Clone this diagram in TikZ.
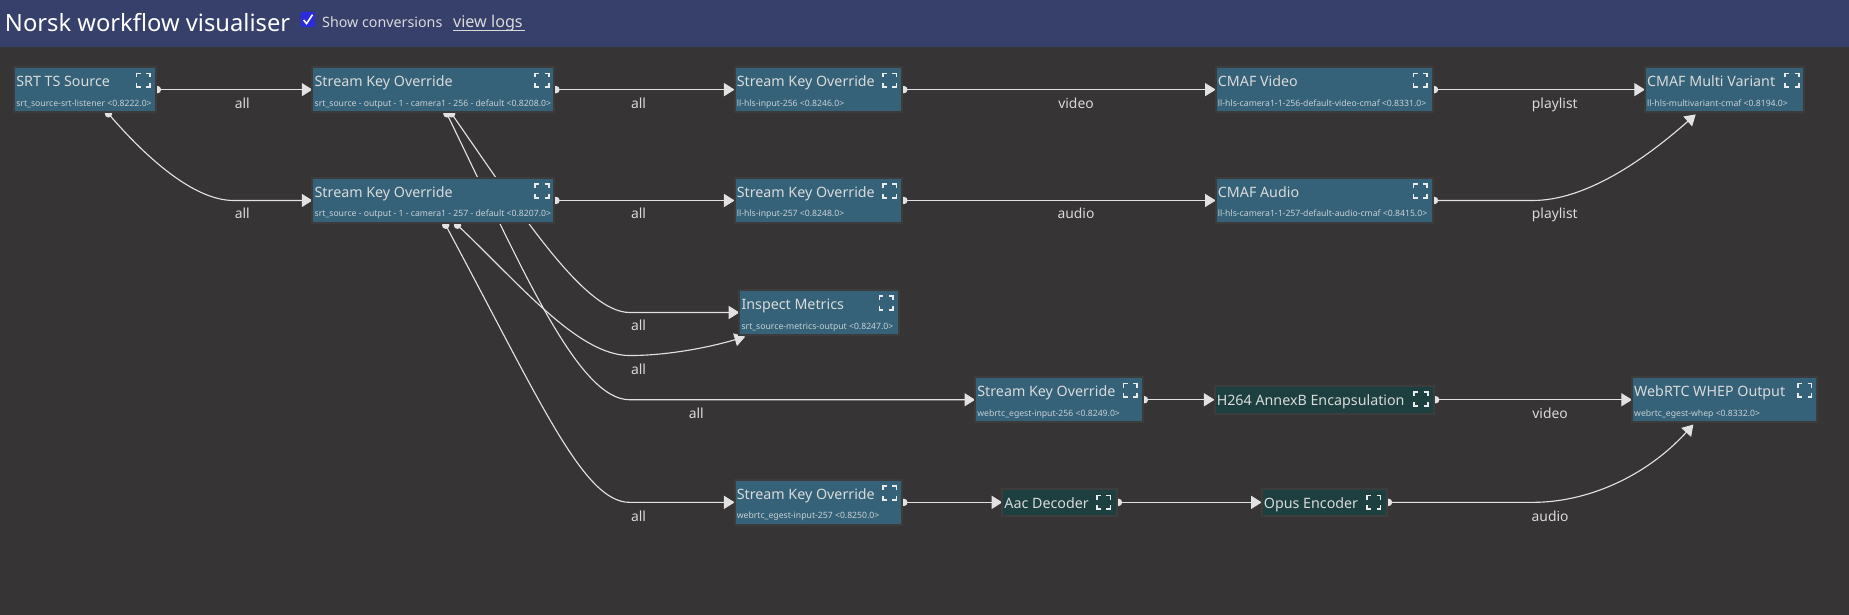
\documentclass[tikz,border=0pt]{standalone}
\usepackage{fontspec}
\setmainfont{Noto Sans}
\usetikzlibrary{arrows.meta,calc}
\pgfdeclarelayer{under}
\pgfsetlayers{under,main}
\definecolor{bgc}{HTML}{363435}
\definecolor{headc}{HTML}{37406B}
\definecolor{bluec}{HTML}{356278}
\definecolor{greenc}{HTML}{1D3F3F}
\definecolor{edgec}{HTML}{3D3C3D}
\definecolor{linec}{HTML}{E2E2E2}
\definecolor{txtc}{HTML}{DADADA}
\definecolor{subc}{HTML}{C8D0D5}
\definecolor{checkc}{HTML}{2B2BE0}
\newcommand{\upt}{0.8844}
\tikzset{
 wfbox/.style={draw=edgec,line width=1.5pt,inner sep=0pt,outer sep=0pt},
 wfblue/.style={wfbox,fill=bluec},
 wfgreen/.style={wfbox,fill=greenc},
 wftitle/.style={inner sep=0pt,anchor=base west,text=txtc,font=\fontsize{10.7pt}{12pt}\selectfont},
 wfsub/.style={inner sep=0pt,anchor=base west,text=subc,font=\fontsize{6.5pt}{8pt}\selectfont},
 wflabel/.style={inner sep=0pt,anchor=base,text=txtc,font=\fontsize{10.4pt}{12pt}\selectfont},
 wfedge/.style={draw=linec,line width=0.85pt,-{Triangle[length=8pt,width=9.8pt,fill=linec]}},
 handleh/.style={fill=linec,circle,inner sep=0pt,minimum size=5.6pt},
 wficon/.pic={\draw[white!92!black,line width=1.25pt,line cap=butt]
   (-5.8,-2.3)--(-5.8,-5.8)--(-2.3,-5.8) (2.3,-5.8)--(5.8,-5.8)--(5.8,-2.3)
   (5.8,2.3)--(5.8,5.8)--(2.3,5.8) (-2.3,5.8)--(-5.8,5.8)--(-5.8,2.3);}
}
% style, name, x1, y1, x2, y2, title, sub
\newcommand{\wfnode}[8]{%
 \pgfmathsetmacro{\wfw}{(#5-#3)*\upt}\pgfmathsetmacro{\wfh}{(#6-#4)*\upt}%
 \node[#1,minimum width=\wfw pt,minimum height=\wfh pt] (#2) at ({(#3+#5)/2},{(#4+#6)/2}) {};%
 \node[wftitle] (#2t) at (#3+1.6,#4+16.6) {#7};%
 \node[wfsub] (#2s) at (#3+1.6,#4+33) {#8};%
 \pic at (#5-10.5,#4+11) {wficon};}
\newcommand{\wfnodeg}[7]{%
 \pgfmathsetmacro{\wfw}{(#5-#3)*\upt}\pgfmathsetmacro{\wfh}{(#6-#4)*\upt}%
 \node[#1,minimum width=\wfw pt,minimum height=\wfh pt] (#2) at ({(#3+#5)/2},{(#4+#6)/2}) {};%
 \node[wftitle] (#2t) at (#3+1.6,#4+16.5) {#7};%
 \pic at (#5-11,#4+11.5) {wficon};}
\begin{document}
\begin{tikzpicture}[x=0.8844pt,y=-0.8844pt]
\useasboundingbox (0,0) rectangle (1568,520.7);
\begin{pgfonlayer}{under}
\fill[bgc] (-2,-2) rectangle (1570,523);
\end{pgfonlayer}
\fill[headc] (-2,-2) rectangle (1570,40);
\node[inner sep=0pt,anchor=base west,text=white,font=\fontsize{17.8pt}{20pt}\selectfont] (ttl) at (4,26.5) {Norsk workflow visualiser};
\fill[checkc,rounded corners=1.5pt] (255,10) rectangle (267,23);
\draw[white,line width=1.2pt] (257.5,17)--(260,20)--(265,12.5);
\node[inner sep=0pt,anchor=base west,text=txtc,font=\fontsize{10.7pt}{12pt}\selectfont] (conv) at (273,23.5) {Show conversions};
\node[inner sep=0pt,anchor=base west,text=txtc,font=\fontsize{12.1pt}{14pt}\selectfont] (logs) at (384,23.5) {view logs};
\draw[txtc,line width=0.7pt] (logs.base west)++(0,2.5) -- ++(61,0);

% nodes
\wfnode{wfblue}{srt}{12}{57}{132}{95}{SRT TS Source}{srt\_source-srt-listener <0.8222.0>}
\wfnode{wfblue}{ska}{265}{57}{470}{95}{Stream Key Override}{srt\_source - output - 1 - camera1 - 256 - default <0.8208.0>}
\wfnode{wfblue}{skb}{265}{151}{470}{189}{Stream Key Override}{srt\_source - output - 1 - camera1 - 257 - default <0.8207.0>}
\wfnode{wfblue}{skc}{623}{57}{765}{95}{Stream Key Override}{ll-hls-input-256 <0.8246.0>}
\wfnode{wfblue}{skd}{623}{151}{765}{189}{Stream Key Override}{ll-hls-input-257 <0.8248.0>}
\wfnode{wfblue}{cmv}{1031}{57}{1215}{95}{CMAF Video}{ll-hls-camera1-1-256-default-video-cmaf <0.8331.0>}
\wfnode{wfblue}{cma}{1031}{151}{1215}{189}{CMAF Audio}{ll-hls-camera1-1-257-default-audio-cmaf <0.8415.0>}
\wfnode{wfblue}{mvr}{1395}{57}{1530}{95}{CMAF Multi Variant}{ll-hls-multivariant-cmaf <0.8194.0>}
\wfnode{wfblue}{ins}{627}{246}{762}{284}{Inspect Metrics}{srt\_source-metrics-output <0.8247.0>}
\wfnode{wfblue}{ske}{827}{320}{969}{358}{Stream Key Override}{webrtc\_egest-input-256 <0.8249.0>}
\wfnodeg{wfgreen}{h26}{1030}{327}{1216}{351}{H264 AnnexB Encapsulation}
\wfnode{wfblue}{whp}{1384}{320}{1541}{358}{WebRTC WHEP Output}{webrtc\_egest-whep <0.8332.0>}
\wfnode{wfblue}{skf}{623}{407}{765}{445}{Stream Key Override}{webrtc\_egest-input-257 <0.8250.0>}
\wfnodeg{wfgreen}{aac}{850}{414.5}{947}{437.5}{Aac Decoder}
\wfnodeg{wfgreen}{opu}{1070}{414.5}{1176}{437.5}{Opus Encoder}

\coordinate (pA) at ($(srt.south west)+(80,1.5)$);
\coordinate (pB) at ($(ska.south west)+(114,1.5)$);
\coordinate (pC) at ($(ska.south west)+(118,1.5)$);
\coordinate (pD) at ($(skb.south west)+(113,2)$);
\coordinate (pE) at ($(skb.south west)+(123,2)$);
\coordinate (k5b) at ($(ins.south west)+(5,1.5)$);
\coordinate (k9b) at ($(mvr.south west)+(43,2)$);
\coordinate (k10b) at ($(whp.south west)+(52,2)$);

\begin{pgfonlayer}{under}
% curved connectors, under the boxes
\draw[wfedge] (pA) .. controls (125,135) and (165,170) .. (198,170) -- (skb.west);
\draw[wfedge] (pC) .. controls (440,178) and (495,265) .. (534,265) -- (ins.west);
\draw[wfedge] (pB) .. controls (443,228) and (490,339) .. (534,339) -- (ske.west);
\draw[wfedge] (pD) .. controls (459,342) and (495,426) .. (534,426) -- (skf.west);
\draw[wfedge] (pE) .. controls (440,240) and (490,301.5) .. (534,301.5) .. controls (565,301.5) and (600,295) .. (k5b);
\draw[wfedge] (cma.east) -- (1300,170) .. controls (1345,170) and (1395,135) .. (k9b);
\draw[wfedge] (opu.east) -- (1300,426) .. controls (1345,426) and (1395,405) .. (k10b);
% straight connectors
\foreach \a/\b in {srt/ska,ska/skc,skb/skd,skc/cmv,skd/cma,cmv/mvr,ske/h26,h26/whp,skf/aac,aac/opu}{
  \draw[wfedge] (\a.east) -- (\b.west);
}
% handles
\foreach \p in {pA,pB,pC,pD,pE}{\node[handleh] at (\p) {};}
\foreach \a in {srt,ska,skb,skc,skd,cmv,cma,ske,h26,skf,aac,opu}{
  \node[handleh,xshift=1.3pt] at (\a.east) {};
}
\end{pgfonlayer}

% labels
\foreach \n/\x/\y/\t in {l1/205.5/91.6/all,l2/205.5/185.6/all,l3/541.5/91.6/all,l4/541.5/185.6/all,l5/541.5/280.6/all,l6/541.5/317.6/all,l7/590.5/354.6/all,l8/541.5/442.6/all,l9/912.5/91.6/video,l10/912.5/185.6/audio,l11/1318.5/91.6/playlist,l12/1318.5/185.6/playlist,l13/1314.5/354.6/video,l14/1314.5/442.6/audio}{
  \node[wflabel] (\n) at (\x,\y) {\t};
}
\end{tikzpicture}
\end{document}
